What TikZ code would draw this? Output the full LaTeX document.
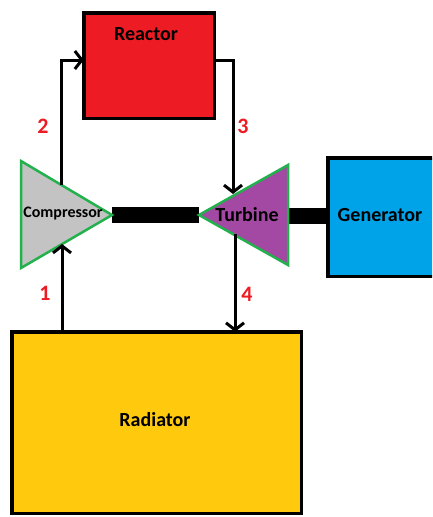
\documentclass[tikz,border=0pt]{standalone}
\usepackage{fontspec}
\setmainfont{Carlito}
\usetikzlibrary{arrows.meta}
\definecolor{reactorred}{HTML}{ED1C24}
\definecolor{compgray}{HTML}{C3C3C3}
\definecolor{turbpurple}{HTML}{A349A4}
\definecolor{genblue}{HTML}{00A2E8}
\definecolor{radyellow}{HTML}{FFC90E}
\definecolor{edgegreen}{HTML}{22B14C}
\definecolor{numred}{HTML}{ED1C24}
\begin{document}
\begin{tikzpicture}[x=1pt,y=-1pt,
  box/.style={draw=black, line width=3.5pt, inner sep=0pt, outer sep=0pt},
  flow/.style={draw=black, line width=3pt, -{Straight Barb[length=7pt,width=18pt,line width=3pt]}},
  shaft/.style={draw=black, line width=16pt},
  machine/.style={draw=edgegreen, line width=2.5pt, line join=miter},
  lbl/.style={font=\bfseries\fontsize{20}{22}\selectfont, inner sep=0pt},
  num/.style={font=\bfseries\fontsize{22}{24}\selectfont, text=numred, inner sep=0pt}]
\useasboundingbox (0,0) rectangle (432,517);
\clip (0,0) rectangle (432,517);
% boxes
\node[box, fill=reactorred, minimum width=130.5pt, minimum height=105.5pt] (reactor) at (149,65.5) {};
\node[lbl] (reactortxt) at (146,34) {Reactor};
\node[box, fill=genblue, minimum width=110.5pt, minimum height=118.5pt] (generator) at (383,217) {};
\node[lbl] (generatortxt) at (380,215) {Generator};
\node[box, fill=radyellow, minimum width=289.5pt, minimum height=181.5pt] (radiator) at (156.5,422.5) {};
\node[lbl] (radiatortxt) at (155,420) {Radiator};
% machine geometry
\coordinate (ctop) at (21,161);
\coordinate (cbot) at (21,268);
\coordinate (capex) at (112,215);
\coordinate (tapex) at (199,215);
\coordinate (ttop) at (288,165);
\coordinate (tbot) at (288,265);
\coordinate (tright) at (288,216);
% shafts
\draw[shaft] (capex) -- (tapex);
\draw[shaft] (tright) -- (tright -| generator.west);
% compressor and turbine
\draw[machine, fill=compgray] (ctop) -- (capex) -- (cbot) -- cycle;
\node[lbl, font=\bfseries\fontsize{16}{18}\selectfont] (comptxt) at (63,214) {Compressor};
\draw[machine, fill=turbpurple] (tapex) -- (ttop) -- (tbot) -- cycle;
\node[lbl] (turbtxt) at (247,215) {Turbine};
% connection points on the machines
\coordinate (c2) at (61,185);
\coordinate (c1) at (62,244);
\coordinate (t3) at (233,194);
\coordinate (t4) at (235,234);
% flows
\draw[flow] (c2) |- ([yshift=5.5pt]reactor.west);
\draw[flow] ([yshift=5.5pt]reactor.east) -| (t3);
\draw[flow] (t4) -- (t4 |- radiator.north);
\draw[flow] (c1 |- radiator.north) -- (c1);
% state numbers
\node[num] (n2) at (43,126) {2};
\node[num] (n3) at (243,126) {3};
\node[num] (n1) at (45,293) {1};
\node[num] (n4) at (247,294) {4};
\end{tikzpicture}
\end{document}
